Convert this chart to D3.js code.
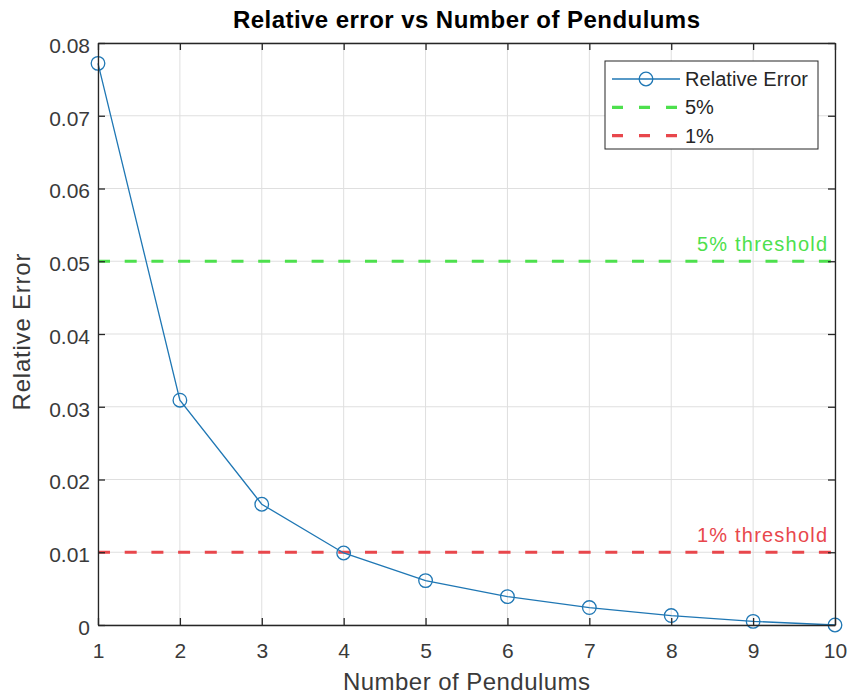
<!DOCTYPE html>
<html>
<head>
<meta charset="utf-8">
<script src="https://cdn.jsdelivr.net/npm/d3@7"></script>
<style>
  body { margin: 0; background: #fff; }
  svg { display: block; }
  text { font-family: "Liberation Sans", Arial, sans-serif; fill: #262626; }
</style>
</head>
<body>
<script>
// Relative error against the number of pendulums
const pendulums = [1, 2, 3, 4, 5, 6, 7, 8, 9, 10];
const relativeError = [0.0772, 0.0309, 0.0166, 0.0099, 0.0061, 0.0039, 0.0024, 0.0013, 0.0005, 0.0];
const thresholds = [
  { name: "5%", value: 0.05, label: "5% threshold", color: "#4de04d" },
  { name: "1%", value: 0.01, label: "1% threshold", color: "#e8474c" }
];
const xTicks = [1, 2, 3, 4, 5, 6, 7, 8, 9, 10];
const yTicks = [0, 0.01, 0.02, 0.03, 0.04, 0.05, 0.06, 0.07, 0.08];

const W = 851, H = 697;
const margin = { left: 98, right: 16, top: 43, bottom: 72 };
const iw = W - margin.left - margin.right;
const ih = H - margin.top - margin.bottom;
const lineBlue = "#1f77b4";

const svg = d3.select("body").append("svg").attr("width", W).attr("height", H);
const g = svg.append("g").attr("transform", `translate(${margin.left},${margin.top})`);

const x = d3.scaleLinear().domain([1, 10]).range([0, iw]);
const y = d3.scaleLinear().domain([0, 0.08]).range([ih, 0]);

// grid
g.append("g").selectAll("line").data(xTicks).join("line")
  .attr("x1", d => x(d)).attr("x2", d => x(d)).attr("y1", 0).attr("y2", ih)
  .attr("stroke", "#dfdfdf").attr("stroke-width", 1);
g.append("g").selectAll("line").data(yTicks).join("line")
  .attr("y1", d => y(d)).attr("y2", d => y(d)).attr("x1", 0).attr("x2", iw)
  .attr("stroke", "#dfdfdf").attr("stroke-width", 1);

// threshold lines
thresholds.forEach(t => {
  g.append("line")
    .attr("x1", 0).attr("x2", iw).attr("y1", y(t.value)).attr("y2", y(t.value))
    .attr("stroke", t.color).attr("stroke-width", 3.2)
    .attr("stroke-dasharray", "12,14.7");
  g.append("text")
    .attr("x", iw - 8).attr("y", y(t.value) - 10)
    .attr("text-anchor", "end").attr("font-size", 20)
    .attr("textLength", 130).attr("lengthAdjust", "spacing")
    .style("fill", t.color).text(t.label);
});

// error curve
const pts = pendulums.map((p, i) => [p, relativeError[i]]);
g.append("path").datum(pts)
  .attr("fill", "none").attr("stroke", lineBlue).attr("stroke-width", 1.3)
  .attr("d", d3.line().x(d => x(d[0])).y(d => y(d[1])));
g.append("g").selectAll("circle").data(pts).join("circle")
  .attr("cx", d => x(d[0])).attr("cy", d => y(d[1])).attr("r", 6.8)
  .attr("fill", "none").attr("stroke", lineBlue).attr("stroke-width", 1.3);

// axes with inward ticks, boxed
const axColor = "#262626";
const xAxis = g.append("g").attr("transform", `translate(0,${ih})`)
  .call(d3.axisBottom(x).tickValues(xTicks).tickSizeInner(-7).tickSizeOuter(0).tickPadding(18).tickFormat(d3.format("d")));
const yAxis = g.append("g")
  .call(d3.axisLeft(y).tickValues(yTicks).tickSizeInner(-7).tickSizeOuter(0).tickPadding(8)
    .tickFormat(d => d === 0 ? "0" : d3.format(".2f")(d)));
const xTop = g.append("g")
  .call(d3.axisTop(x).tickValues(xTicks).tickSizeInner(-7).tickSizeOuter(0).tickFormat(""));
const yRight = g.append("g").attr("transform", `translate(${iw},0)`)
  .call(d3.axisRight(y).tickValues(yTicks).tickSizeInner(-7).tickSizeOuter(0).tickFormat(""));
[xAxis, yAxis, xTop, yRight].forEach(a => {
  a.selectAll(".domain").attr("stroke", axColor).attr("stroke-width", 1.3);
  a.selectAll(".tick line").attr("stroke", axColor).attr("stroke-width", 1.3);
  a.selectAll("text").attr("font-size", 21).style("fill", "#3a3a3a")
    .attr("font-family", "'Liberation Sans', Arial, sans-serif");
});
yAxis.selectAll("text").attr("dy", "0.45em");

// title and axis labels
svg.append("text").attr("x", margin.left + iw / 2).attr("y", 28)
  .attr("text-anchor", "middle").attr("font-size", 24).attr("font-weight", "bold")
  .attr("textLength", 467).attr("lengthAdjust", "spacing")
  .style("fill", "#000").text("Relative error vs Number of Pendulums");
svg.append("text").attr("x", margin.left + iw / 2).attr("y", 690)
  .attr("text-anchor", "middle").attr("font-size", 24)
  .attr("textLength", 247).attr("lengthAdjust", "spacing")
  .style("fill", "#3a3a3a").text("Number of Pendulums");
svg.append("text").attr("transform", `translate(30,${margin.top + ih / 2 - 2}) rotate(-90)`)
  .attr("text-anchor", "middle").attr("font-size", 24)
  .attr("textLength", 157).attr("lengthAdjust", "spacing")
  .style("fill", "#3a3a3a").text("Relative Error");

// legend
const lg = svg.append("g").attr("transform", "translate(605,61)");
lg.append("rect").attr("width", 213).attr("height", 88)
  .attr("fill", "#fff").attr("stroke", axColor).attr("stroke-width", 1);
const entries = [
  { name: "Relative Error", color: lineBlue, dashed: false },
  ...thresholds.map(t => ({ name: t.name, color: t.color, dashed: true }))
];
entries.forEach((e, i) => {
  const cy = 18 + i * 28.3;
  const ln = lg.append("line").attr("x1", 7).attr("x2", 75).attr("y1", cy).attr("y2", cy)
    .attr("stroke", e.color);
  if (e.dashed) {
    ln.attr("stroke-width", 3.2).attr("stroke-dasharray", "11,16");
  } else {
    ln.attr("stroke-width", 1.3);
    lg.append("circle").attr("cx", 41).attr("cy", cy).attr("r", 6.8)
      .attr("fill", "none").attr("stroke", e.color).attr("stroke-width", 1.3);
  }
  const tx = lg.append("text").attr("x", 80).attr("y", cy + 7)
    .attr("font-size", 20).style("fill", "#262626").text(e.name);
  if (i === 0) tx.attr("textLength", 123).attr("lengthAdjust", "spacing");
});
</script>
</body>
</html>
